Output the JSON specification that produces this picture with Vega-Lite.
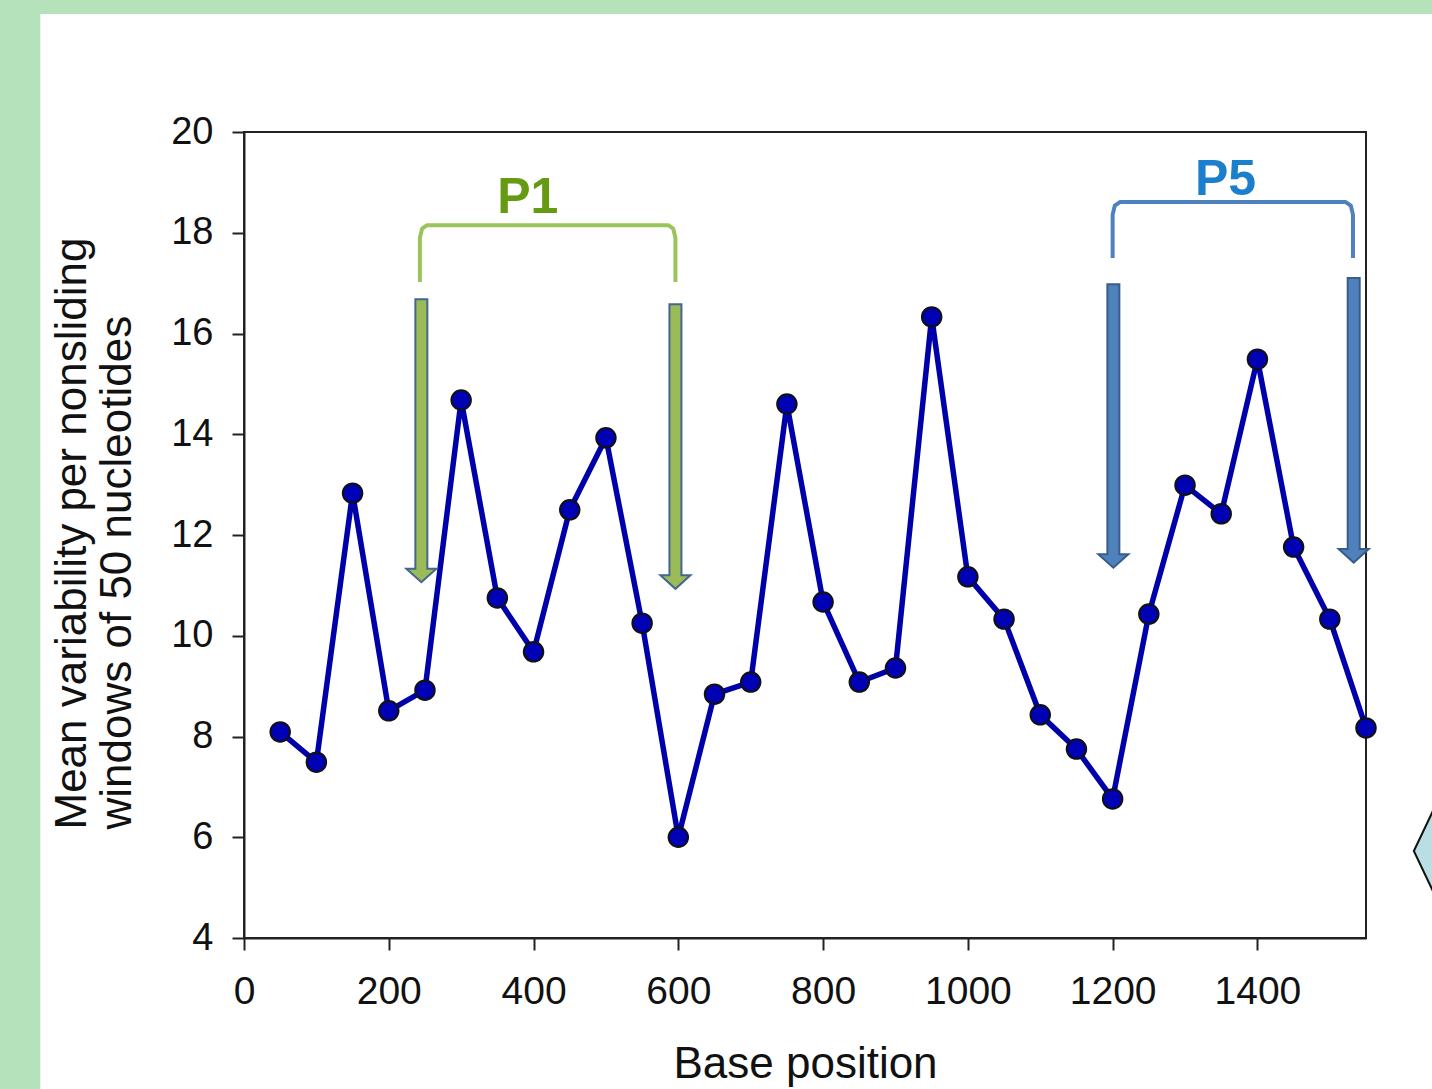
{
  "$schema": "https://vega.github.io/schema/vega-lite/v6.json",
  "width": 1122,
  "height": 806,
  "autosize": {"type": "none"},
  "padding": {"left": 244, "top": 132, "right": 66, "bottom": 151},
  "background": "white",
  "config": {"view": {"stroke": "#222", "strokeWidth": 2}, "font": "Liberation Sans"},
  "datasets": {
    "series": [
      {"pos": 50, "v": 8.09}, {"pos": 100, "v": 7.49}, {"pos": 150, "v": 12.83}, {"pos": 200, "v": 8.51},
      {"pos": 250, "v": 8.92}, {"pos": 300, "v": 14.68}, {"pos": 350, "v": 10.75}, {"pos": 400, "v": 9.68},
      {"pos": 450, "v": 12.5}, {"pos": 500, "v": 13.93}, {"pos": 550, "v": 10.25}, {"pos": 600, "v": 6.0},
      {"pos": 650, "v": 8.84}, {"pos": 700, "v": 9.08}, {"pos": 750, "v": 14.6}, {"pos": 800, "v": 10.67},
      {"pos": 850, "v": 9.08}, {"pos": 900, "v": 9.36}, {"pos": 950, "v": 16.33}, {"pos": 1000, "v": 11.17},
      {"pos": 1050, "v": 10.33}, {"pos": 1100, "v": 8.43}, {"pos": 1150, "v": 7.75}, {"pos": 1200, "v": 6.76},
      {"pos": 1250, "v": 10.43}, {"pos": 1300, "v": 12.99}, {"pos": 1350, "v": 12.42}, {"pos": 1400, "v": 15.49},
      {"pos": 1450, "v": 11.76}, {"pos": 1500, "v": 10.33}, {"pos": 1550, "v": 8.17}
    ],
    "bracketP1": [
      {"o": 1, "pos": 243, "v": 17.02}, {"o": 2, "pos": 243, "v": 17.9}, {"o": 3, "pos": 246, "v": 18.08}, {"o": 4, "pos": 253, "v": 18.15},
      {"o": 5, "pos": 586, "v": 18.15}, {"o": 6, "pos": 593, "v": 18.08}, {"o": 7, "pos": 596, "v": 17.9}, {"o": 8, "pos": 596, "v": 17.02}
    ],
    "bracketP5": [
      {"o": 1, "pos": 1200, "v": 17.5}, {"o": 2, "pos": 1200, "v": 18.36}, {"o": 3, "pos": 1203, "v": 18.54}, {"o": 4, "pos": 1210, "v": 18.61},
      {"o": 5, "pos": 1522, "v": 18.61}, {"o": 6, "pos": 1529, "v": 18.54}, {"o": 7, "pos": 1532, "v": 18.36}, {"o": 8, "pos": 1532, "v": 17.5}
    ],
    "arrowsP1": [
      {"pos": 245, "top": 16.7, "base": 11.33},
      {"pos": 596, "top": 16.6, "base": 11.2}
    ],
    "arrowsP5": [
      {"pos": 1201, "top": 17.0, "base": 11.62},
      {"pos": 1533, "top": 17.12, "base": 11.72}
    ],
    "labelP1": [{"pos": 392, "v": 18.39, "label": "P1"}],
    "labelP5": [{"pos": 1356, "v": 18.75, "label": "P5"}]
  },
  "layer": [
    {
      "data": {"values": [{"k": 1}]},
      "mark": {"type": "rect", "fill": "#b6e2bb", "clip": false},
      "encoding": {
        "x": {"datum": -400, "type": "quantitative"},
        "x2": {"datum": -281.4},
        "y": {"datum": -10, "type": "quantitative"},
        "y2": {"datum": 30}
      }
    },
    {
      "data": {"values": [{"k": 1}]},
      "mark": {"type": "rect", "fill": "#b6e2bb", "clip": false},
      "encoding": {
        "x": {"datum": -400, "type": "quantitative"},
        "x2": {"datum": 2600},
        "y": {"datum": 22.34, "type": "quantitative"},
        "y2": {"datum": 30}
      }
    },
    {
      "data": {"values": [{"k": 1}]},
      "mark": {"type": "point", "shape": "M-1,0 L0,-2.1 L1,0 L0,2.1 Z", "size": 14400, "filled": true, "fill": "#b9dfe4", "stroke": "#111", "strokeWidth": 2, "opacity": 1, "clip": false},
      "encoding": {
        "x": {"datum": 1699, "type": "quantitative"},
        "y": {"datum": 5.727, "type": "quantitative"}
      }
    },
    {
      "data": {"name": "series"},
      "mark": {"type": "line", "color": "#0000aa", "strokeWidth": 5.5},
      "encoding": {
        "x": {
          "field": "pos", "type": "quantitative",
          "scale": {"domain": [0, 1550], "nice": false, "zero": false},
          "axis": {
            "title": "Base position",
            "values": [0, 200, 400, 600, 800, 1000, 1200, 1400],
            "format": "d",
            "labelFlush": false,
            "grid": false,
            "tickSize": 12, "tickColor": "#222", "tickWidth": 2,
            "domainColor": "#222", "domainWidth": 2,
            "labelFont": "Liberation Sans", "labelFontSize": 39, "labelColor": "#111", "labelPadding": 22,
            "titleFont": "Liberation Sans", "titleFontSize": 44, "titleFontWeight": "normal", "titleColor": "#111",
            "titleY": 139, "titleBaseline": "alphabetic"
          }
        },
        "y": {
          "field": "v", "type": "quantitative",
          "scale": {"domain": [4, 20], "nice": false, "zero": false},
          "axis": {
            "title": ["Mean variability per nonsliding", "windows of 50 nucleotides"],
            "values": [4, 6, 8, 10, 12, 14, 16, 18, 20],
            "labelFlush": false,
            "grid": false,
            "tickSize": 12, "tickColor": "#222", "tickWidth": 2,
            "domainColor": "#222", "domainWidth": 2,
            "labelFont": "Liberation Sans", "labelFontSize": 38, "labelColor": "#111", "labelPadding": 19,
            "titleFont": "Liberation Sans", "titleFontSize": 44, "titleFontWeight": "normal", "titleColor": "#111",
            "titleLineHeight": 45, "titleAngle": -90, "titleX": -159, "titleY": 697,
            "titleBaseline": "alphabetic", "titleAlign": "left"
          }
        }
      }
    },
    {
      "data": {"name": "series"},
      "mark": {"type": "point", "shape": "circle", "size": 380, "filled": true, "fill": "#0000b4", "stroke": "#111", "strokeWidth": 2, "opacity": 1},
      "encoding": {
        "x": {"field": "pos", "type": "quantitative"},
        "y": {"field": "v", "type": "quantitative"}
      }
    },
    {
      "data": {"name": "bracketP1"},
      "mark": {"type": "line", "color": "#9bc45a", "strokeWidth": 4, "strokeJoin": "round"},
      "encoding": {
        "x": {"field": "pos", "type": "quantitative"},
        "y": {"field": "v", "type": "quantitative"},
        "order": {"field": "o"}
      }
    },
    {
      "data": {"name": "bracketP5"},
      "mark": {"type": "line", "color": "#4f81bd", "strokeWidth": 4, "strokeJoin": "round"},
      "encoding": {
        "x": {"field": "pos", "type": "quantitative"},
        "y": {"field": "v", "type": "quantitative"},
        "order": {"field": "o"}
      }
    },
    {
      "data": {"name": "arrowsP1"},
      "mark": {"type": "rule", "color": "#44668f", "strokeWidth": 14},
      "encoding": {
        "x": {"field": "pos", "type": "quantitative"},
        "y": {"field": "top", "type": "quantitative"},
        "y2": {"field": "base"}
      }
    },
    {
      "data": {"name": "arrowsP1"},
      "mark": {"type": "point", "shape": "M-1,0 L1,0 L0,0.9 Z", "size": 900, "filled": true, "fill": "#9bbb59", "stroke": "#44668f", "strokeWidth": 2, "opacity": 1},
      "encoding": {
        "x": {"field": "pos", "type": "quantitative"},
        "y": {"field": "base", "type": "quantitative"}
      }
    },
    {
      "data": {"name": "arrowsP1"},
      "mark": {"type": "rule", "color": "#9bbb59", "strokeWidth": 10, "yOffset": 2, "y2Offset": 3},
      "encoding": {
        "x": {"field": "pos", "type": "quantitative"},
        "y": {"field": "top", "type": "quantitative"},
        "y2": {"field": "base"}
      }
    },
    {
      "data": {"name": "arrowsP5"},
      "mark": {"type": "rule", "color": "#385d8a", "strokeWidth": 14},
      "encoding": {
        "x": {"field": "pos", "type": "quantitative"},
        "y": {"field": "top", "type": "quantitative"},
        "y2": {"field": "base"}
      }
    },
    {
      "data": {"name": "arrowsP5"},
      "mark": {"type": "point", "shape": "M-1,0 L1,0 L0,0.9 Z", "size": 900, "filled": true, "fill": "#4f81bd", "stroke": "#385d8a", "strokeWidth": 2, "opacity": 1},
      "encoding": {
        "x": {"field": "pos", "type": "quantitative"},
        "y": {"field": "base", "type": "quantitative"}
      }
    },
    {
      "data": {"name": "arrowsP5"},
      "mark": {"type": "rule", "color": "#4f81bd", "strokeWidth": 10, "yOffset": 2, "y2Offset": 3},
      "encoding": {
        "x": {"field": "pos", "type": "quantitative"},
        "y": {"field": "top", "type": "quantitative"},
        "y2": {"field": "base"}
      }
    },
    {
      "data": {"name": "labelP1"},
      "mark": {"type": "text", "font": "Liberation Sans", "fontSize": 50, "fontWeight": "bold", "color": "#669a12", "align": "center", "baseline": "alphabetic"},
      "encoding": {
        "x": {"field": "pos", "type": "quantitative"},
        "y": {"field": "v", "type": "quantitative"},
        "text": {"field": "label"}
      }
    },
    {
      "data": {"name": "labelP5"},
      "mark": {"type": "text", "font": "Liberation Sans", "fontSize": 50, "fontWeight": "bold", "color": "#1b7fcb", "align": "center", "baseline": "alphabetic"},
      "encoding": {
        "x": {"field": "pos", "type": "quantitative"},
        "y": {"field": "v", "type": "quantitative"},
        "text": {"field": "label"}
      }
    }
  ]
}
